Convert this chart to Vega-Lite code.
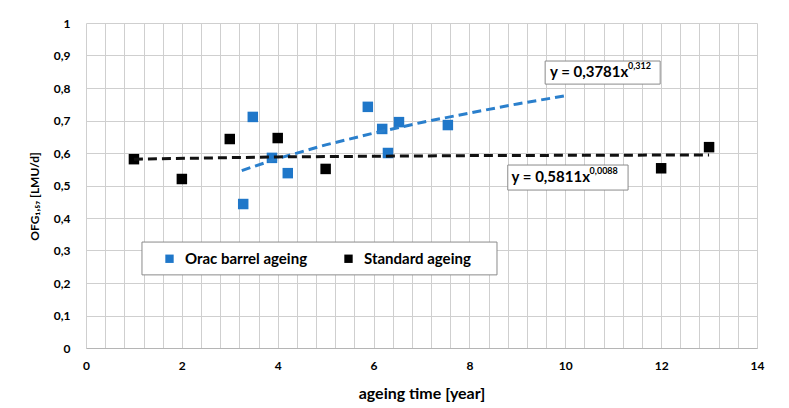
{
  "$schema": "https://vega.github.io/schema/vega-lite/v6.json",
  "width": 671,
  "height": 325,
  "autosize": {"type": "none"},
  "padding": {"left": 86, "top": 23, "right": 32, "bottom": 60},
  "background": "white",
  "config": {
    "view": {"stroke": null},
    "font": "Lato",
    "axis": {
      "labelFont": "Lato", "labelFontWeight": "bold", "labelFontSize": 12, "labelColor": "#000",
      "titleFont": "Lato", "titleFontWeight": "bold", "titleFontSize": 16, "titleColor": "#000",
      "gridColor": "#cfcfcf", "gridOpacity": 1, "gridWidth": 1,
      "domainColor": "#b5b5b5", "ticks": false, "labelOverlap": false
    }
  },
  "datasets": {
    "points": [
      {"series": "Orac barrel ageing", "time": 3.28, "ofg": 0.443},
      {"series": "Orac barrel ageing", "time": 3.48, "ofg": 0.711},
      {"series": "Orac barrel ageing", "time": 3.88, "ofg": 0.585},
      {"series": "Orac barrel ageing", "time": 4.21, "ofg": 0.538},
      {"series": "Orac barrel ageing", "time": 5.88, "ofg": 0.742},
      {"series": "Orac barrel ageing", "time": 6.18, "ofg": 0.674},
      {"series": "Orac barrel ageing", "time": 6.3, "ofg": 0.6},
      {"series": "Orac barrel ageing", "time": 6.53, "ofg": 0.695},
      {"series": "Orac barrel ageing", "time": 7.55, "ofg": 0.686},
      {"series": "Standard ageing", "time": 1, "ofg": 0.581},
      {"series": "Standard ageing", "time": 2, "ofg": 0.52},
      {"series": "Standard ageing", "time": 3, "ofg": 0.643},
      {"series": "Standard ageing", "time": 4, "ofg": 0.646},
      {"series": "Standard ageing", "time": 5, "ofg": 0.551},
      {"series": "Standard ageing", "time": 12, "ofg": 0.553},
      {"series": "Standard ageing", "time": 13, "ofg": 0.618}
    ],
    "trend": [
      {"series": "Orac barrel ageing", "time": 3.25, "ofg": 0.546},
      {"series": "Orac barrel ageing", "time": 4, "ofg": 0.583},
      {"series": "Orac barrel ageing", "time": 5, "ofg": 0.625},
      {"series": "Orac barrel ageing", "time": 6, "ofg": 0.661},
      {"series": "Orac barrel ageing", "time": 7, "ofg": 0.694},
      {"series": "Orac barrel ageing", "time": 8, "ofg": 0.723},
      {"series": "Orac barrel ageing", "time": 9, "ofg": 0.751},
      {"series": "Orac barrel ageing", "time": 10, "ofg": 0.776},
      {"series": "Standard ageing", "time": 1, "ofg": 0.581},
      {"series": "Standard ageing", "time": 4, "ofg": 0.588},
      {"series": "Standard ageing", "time": 8, "ofg": 0.592},
      {"series": "Standard ageing", "time": 13, "ofg": 0.594}
    ],
    "boxes": [
      {"x": 9.58, "x2": 11.98, "y": 0.883, "y2": 0.812},
      {"x": 8.8, "x2": 11.31, "y": 0.563, "y2": 0.486},
      {"x": 1.168, "x2": 8.575, "y": 0.326, "y2": 0.225}
    ],
    "equations": [
      {"tx": 9.68, "ty": 0.848, "eq": "y = 0,3781x", "exp": "0,312"},
      {"tx": 8.88, "ty": 0.525, "eq": "y = 0,5811x", "exp": "0,0088"}
    ]
  },
  "layer": [
    {
      "data": {"name": "boxes"},
      "mark": {"type": "rect", "fill": "white", "stroke": "#8a8a8a", "strokeWidth": 1},
      "encoding": {
        "x": {
          "field": "x", "type": "quantitative",
          "scale": {"domain": [0, 14], "nice": false},
          "axis": {
            "title": "ageing time [year]",
            "values": [0,0.4,0.8,1.2,1.6,2,2.4,2.8,3.2,3.6,4,4.4,4.8,5.2,5.6,6,6.4,6.8,7.2,7.6,8,8.4,8.8,9.2,9.6,10,10.4,10.8,11.2,11.6,12,12.4,12.8,13.2,13.6,14],
            "tickCount": 200,
            "format": "~g",
            "labelExpr": "datum.value % 2 == 0 ? datum.label : ''",
            "labelPadding": 12, "titlePadding": 14, "labelFlush": false
          }
        },
        "x2": {"field": "x2"},
        "y": {
          "field": "y", "type": "quantitative",
          "scale": {"domain": [0, 1], "nice": false},
          "axis": {
            "title": "OFG₁,₅₇ [LMU/d]",
            "titleFontSize": 12,
            "titleY": 173,
            "values": [0,0.1,0.2,0.3,0.4,0.5,0.6,0.7,0.8,0.9,1],
            "tickCount": 200,
            "format": ".1~f",
            "labelExpr": "replace(datum.label, '.', ',')",
            "labelPadding": 16, "titlePadding": 12, "domain": false
          }
        },
        "y2": {"field": "y2"}
      }
    },
    {
      "data": {"name": "points"},
      "mark": {"type": "square", "filled": true, "size": 110, "opacity": 1},
      "encoding": {
        "x": {"field": "time", "type": "quantitative"},
        "y": {"field": "ofg", "type": "quantitative"},
        "color": {
          "field": "series", "type": "nominal",
          "scale": {"domain": ["Orac barrel ageing", "Standard ageing"], "range": ["#1f77c9", "#000000"]},
          "legend": {
            "title": null, "orient": "none", "legendX": 76, "legendY": 228,
            "direction": "horizontal", "padding": 0,
            "symbolType": "square", "symbolSize": 70, "symbolStrokeWidth": 0,
            "labelFont": "Lato", "labelFontWeight": "bold", "labelFontSize": 15, "labelColor": "#000",
            "labelOffset": 8, "columnPadding": 33, "labelLimit": 300
          }
        }
      }
    },
    {
      "data": {"name": "trend"},
      "mark": {"type": "line", "strokeWidth": 3, "strokeDash": [9, 5]},
      "encoding": {
        "x": {"field": "time", "type": "quantitative"},
        "y": {"field": "ofg", "type": "quantitative"},
        "stroke": {
          "field": "series", "type": "nominal",
          "scale": {"domain": ["Orac barrel ageing", "Standard ageing"], "range": ["#2a7fcc", "#111111"]},
          "legend": null
        }
      }
    },
    {
      "data": {"name": "equations"},
      "mark": {"type": "text", "align": "left", "baseline": "middle", "font": "Lato", "fontWeight": "bold", "fontSize": 15, "color": "#000"},
      "encoding": {
        "x": {"field": "tx", "type": "quantitative"},
        "y": {"field": "ty", "type": "quantitative"},
        "text": {"field": "eq"}
      }
    },
    {
      "data": {"name": "equations"},
      "mark": {"type": "text", "align": "left", "baseline": "middle", "font": "Lato", "fontWeight": "bold", "fontSize": 9, "color": "#000", "dx": 78, "dy": -6},
      "encoding": {
        "x": {"field": "tx", "type": "quantitative"},
        "y": {"field": "ty", "type": "quantitative"},
        "text": {"field": "exp"}
      }
    }
  ]
}
